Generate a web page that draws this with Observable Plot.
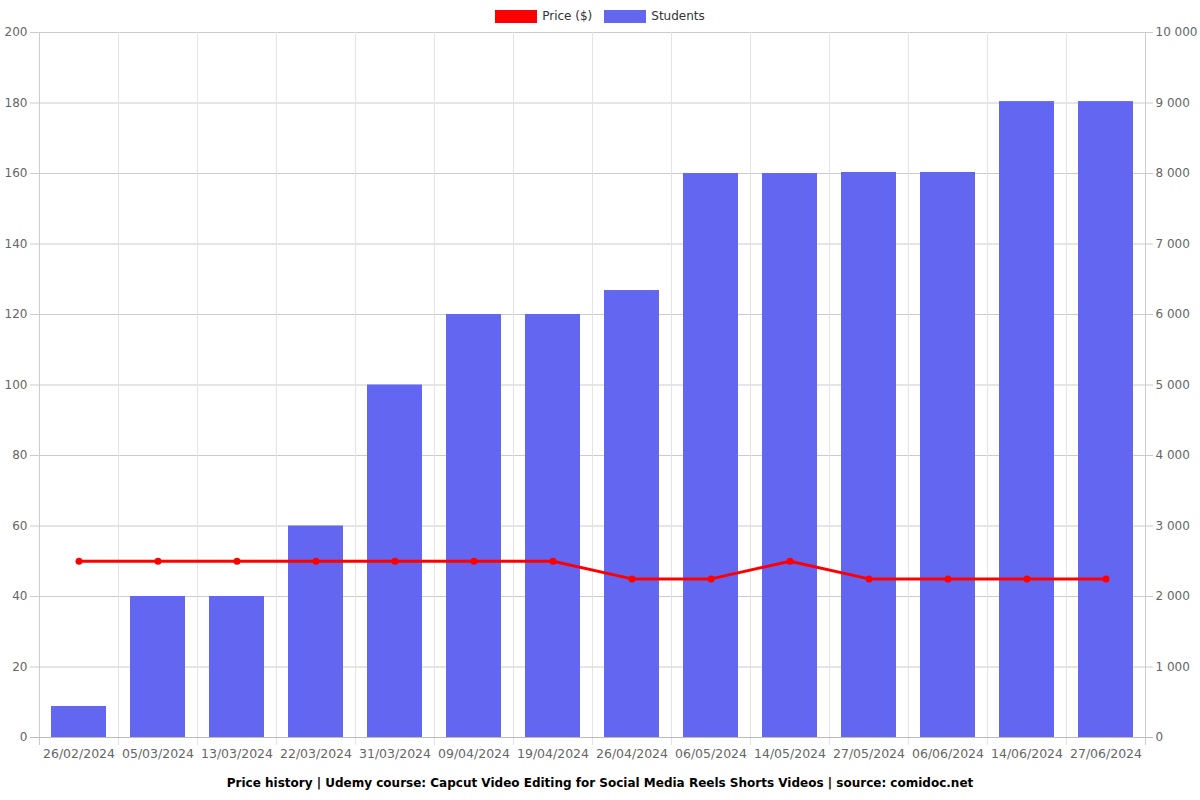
<!DOCTYPE html>
<html><head><meta charset="utf-8">
<script src="https://cdn.jsdelivr.net/npm/d3@7"></script>
<script src="https://cdn.jsdelivr.net/npm/@observablehq/plot@0.6"></script>
<style>
body{margin:0;background:#fff;font-family:"DejaVu Sans",sans-serif;width:1200px;}
#legend{height:16px;padding-top:8px;display:flex;justify-content:center;align-items:center;font-size:12px;color:#333;}
#legend .sw{width:42px;height:13px;margin-right:5px;box-sizing:border-box;}
#legend .item{display:flex;align-items:center;margin:0 6px;}
#caption{height:26px;line-height:26px;text-align:center;font-weight:bold;font-size:12px;color:#000;}
</style></head><body>
<div id="legend"></div>
<div id="chart"></div>
<div id="caption">Price history | Udemy course: Capcut Video Editing for Social Media Reels Shorts Videos | source: comidoc.net</div>
<script>
const dates = ["26/02/2024","05/03/2024","13/03/2024","22/03/2024","31/03/2024","09/04/2024","19/04/2024","26/04/2024","06/05/2024","14/05/2024","27/05/2024","06/06/2024","14/06/2024","27/06/2024"];
const students = [440,2000,2000,3000,5000,6000,6000,6340,8000,8000,8015,8015,9020,9020];
const prices = [50,50,50,50,50,50,50,45,45,50,45,45,45,45];
const priceTicks = [0,20,40,60,80,100,120,140,160,180,200];
const studentTicks = [0,1000,2000,3000,4000,5000,6000,7000,8000,9000,10000];
const seriesNames = ["Price ($)","Students"];
const seriesColors = ["#ff0000","#6366f1"];

const priceMax = 200, studentMax = 10000;
const k = studentMax / priceMax;
const W = 1200, H = 746, mL = 38, mR = 55, mT = 8, mB = 33;
const step = (W - mL - mR) / dates.length;

const rows = dates.map((d, i) => ({date: d, students: students[i], price: prices[i]}));

const leg = document.getElementById("legend");
seriesNames.forEach((n, i) => {
  const it = document.createElement("div"); it.className = "item";
  const sw = document.createElement("div"); sw.className = "sw"; sw.style.background = seriesColors[i];
  const t = document.createElement("span"); t.textContent = n;
  it.appendChild(sw); it.appendChild(t); leg.appendChild(it);
});

const fmtSpace = d => d3.format(",")(d).replace(/,/g, " ");

const chart = Plot.plot({
  width: W, height: H,
  marginLeft: mL, marginRight: mR, marginTop: mT, marginBottom: mB,
  style: {fontFamily: "DejaVu Sans, sans-serif", fontSize: "12px", background: "#fff"},
  x: {type: "band", domain: dates, padding: 0},
  y: {domain: [0, studentMax]},
  marks: [
    Plot.gridY(studentTicks, {stroke: "#cccccc", strokeOpacity: 1, insetLeft: -8, insetRight: -8}),
    Plot.ruleX(dates, {x: d => d, dx: -step / 2, stroke: "#e3e3e3", insetBottom: -8}),
    Plot.ruleX([dates[dates.length - 1]], {x: d => d, dx: step / 2, stroke: "#cccccc", insetBottom: -8}),
    Plot.ruleX([dates[0]], {x: d => d, dx: -step / 2, stroke: "#cccccc", insetBottom: -8}),
    Plot.barY(rows, {x: "date", y: "students", fill: seriesColors[1], insetLeft: 12, insetRight: 12}),
    Plot.ruleY([0], {stroke: "#bbbbbb", insetLeft: -8, insetRight: -8}),
    Plot.line(rows, {x: "date", y: d => d.price * k, stroke: seriesColors[0], strokeWidth: 3}),
    Plot.dot(rows, {x: "date", y: d => d.price * k, fill: seriesColors[0], r: 3.5}),
    Plot.axisY(studentTicks, {anchor: "left", tickFormat: d => d / k, tickSize: 0, tickPadding: 11, fill: "#666", label: null}),
    Plot.axisY(studentTicks, {anchor: "right", tickFormat: fmtSpace, tickSize: 0, tickPadding: 10, fill: "#666", label: null}),
    Plot.axisX({tickSize: 0, tickPadding: 12, fill: "#666", label: null, fontSize: 12.5})
  ]
});
document.getElementById("chart").appendChild(chart);
</script>
</body></html>
